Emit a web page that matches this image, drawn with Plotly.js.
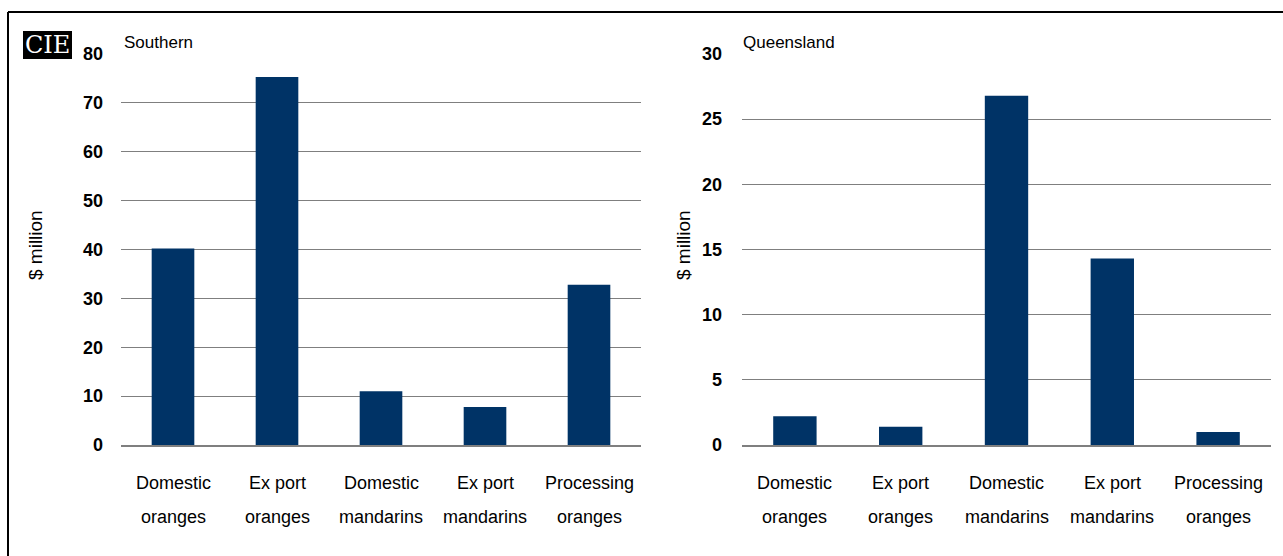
<!DOCTYPE html>
<html>
<head>
<meta charset="utf-8">
<script src="https://cdn.plot.ly/plotly-3.0.1.min.js"></script>
<style>
html,body{margin:0;padding:0;background:#fff;}
#chart{width:1283px;height:556px;}
</style>
</head>
<body>
<div id="chart"></div>
<script>
// ---- data ----
const categories = ["Domestic oranges", "Export oranges", "Domestic mandarins", "Export mandarins", "Processing oranges"];
const labelLine1 = ["Domestic", "Ex port", "Domestic", "Ex port", "Processing"];
const labelLine2 = ["oranges", "oranges", "mandarins", "mandarins", "oranges"];
const southernValues = [40.2, 75.3, 11.0, 7.8, 32.8];
const queenslandValues = [2.2, 1.4, 26.8, 14.3, 1.0];
const panelTitles = ["Southern", "Queensland"];
const yTitle = "$ million";
const southernTicks = [0, 10, 20, 30, 40, 50, 60, 70, 80];
const queenslandTicks = [0, 5, 10, 15, 20, 25, 30];

const W = 1283, H = 556;
const px = v => v / W;
const py = v => 1 - v / H;
const barColor = "#003366";
const gridColor = "#7f7f7f";
const fontFam = "Liberation Sans, Arial, sans-serif";

const traces = [
  {type: "bar", x: categories, y: southernValues, xaxis: "x", yaxis: "y",
   marker: {color: barColor}, width: 0.41, hoverinfo: "none"},
  {type: "bar", x: categories, y: queenslandValues, xaxis: "x2", yaxis: "y2",
   marker: {color: barColor}, width: 0.41, hoverinfo: "none"}
];

const yDom = [py(445), py(54)];
function yax(ticks, max, standoff) {
  return {domain: yDom, range: [0, max], tickvals: ticks, ticktext: ticks.map(String),
    showgrid: true, gridcolor: gridColor, gridwidth: 1, zeroline: false, showline: false,
    ticks: "", ticklabelstandoff: standoff,
    tickfont: {family: fontFam, size: 18, color: "#000", weight: "bold"}, fixedrange: true};
}
function xax(dom, anchor) {
  return {domain: dom, anchor: anchor, type: "category", showticklabels: false, ticks: "",
    showgrid: false, zeroline: false, showline: true, linecolor: gridColor, linewidth: 1.5,
    range: [-0.5, 4.5], fixedrange: true};
}

const annotations = [];
[["x", "y"], ["x2", "y2"]].forEach(([xr, yr]) => {
  categories.forEach((c, i) => {
    annotations.push({xref: xr, yref: yr, x: c, y: 0, yshift: -38, text: labelLine1[i],
      showarrow: false, xanchor: "center", yanchor: "middle",
      font: {family: fontFam, size: 18, color: "#000"}});
    annotations.push({xref: xr, yref: yr, x: c, y: 0, yshift: -72, text: labelLine2[i],
      showarrow: false, xanchor: "center", yanchor: "middle",
      font: {family: fontFam, size: 18, color: "#000"}});
  });
});
// panel titles
annotations.push({xref: "paper", yref: "paper", x: px(122), y: py(43), text: panelTitles[0],
  showarrow: false, xanchor: "left", yanchor: "middle", font: {family: fontFam, size: 17, color: "#000"}});
annotations.push({xref: "paper", yref: "paper", x: px(741), y: py(43), text: panelTitles[1],
  showarrow: false, xanchor: "left", yanchor: "middle", font: {family: fontFam, size: 17, color: "#000"}});
// y titles
annotations.push({xref: "paper", yref: "paper", x: px(36), y: py(245), text: yTitle, textangle: -90,
  showarrow: false, xanchor: "center", yanchor: "middle", font: {family: fontFam, size: 19, color: "#000"}});
annotations.push({xref: "paper", yref: "paper", x: px(684), y: py(245), text: yTitle, textangle: -90,
  showarrow: false, xanchor: "center", yanchor: "middle", font: {family: fontFam, size: 19, color: "#000"}});
// logo text
annotations.push({xref: "paper", yref: "paper", x: px(47), y: py(45), text: "CIE",
  showarrow: false, xanchor: "center", yanchor: "middle",
  font: {family: "DejaVu Serif, serif", size: 24, color: "#fff"}});

const shapes = [
  {type: "line", xref: "paper", yref: "paper", x0: px(8), x1: 1, y0: py(12), y1: py(12), line: {color: "#000", width: 2}},
  {type: "line", xref: "paper", yref: "paper", x0: px(8), x1: px(8), y0: py(12), y1: 0, line: {color: "#000", width: 2}},
  {type: "rect", xref: "paper", yref: "paper", x0: px(23), x1: px(72), y0: py(59), y1: py(31), fillcolor: "#000", line: {width: 0}, layer: "below"}
];

const layout = {
  width: W, height: H,
  margin: {l: 0, r: 0, t: 0, b: 0},
  paper_bgcolor: "#fff", plot_bgcolor: "rgba(0,0,0,0)",
  showlegend: false,
  font: {family: fontFam, color: "#000"},
  xaxis: xax([px(121), px(641)], "y"),
  xaxis2: xax([px(742), px(1271)], "y2"),
  yaxis: Object.assign(yax(southernTicks, 80, 17), {anchor: "x"}),
  yaxis2: Object.assign(yax(queenslandTicks, 30, 19), {anchor: "x2"}),
  annotations: annotations,
  shapes: shapes
};

Plotly.newPlot("chart", traces, layout, {displayModeBar: false, staticPlot: true});
</script>
</body>
</html>
